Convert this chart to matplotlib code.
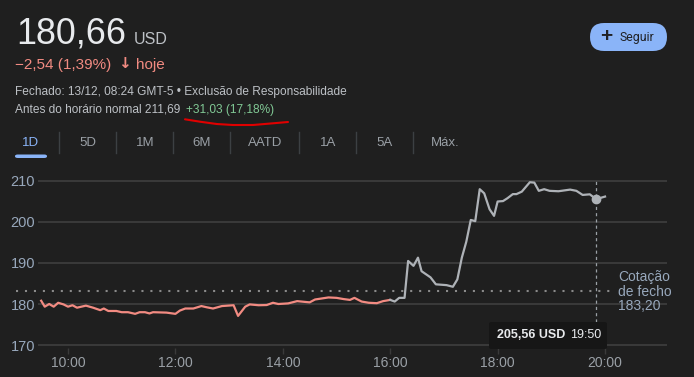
import matplotlib
matplotlib.use("Agg")
import matplotlib.pyplot as plt
from matplotlib.patches import FancyBboxPatch
from matplotlib.transforms import blended_transform_factory

plt.rcParams['font.family'] = ['Liberation Sans', 'DejaVu Sans']

# ---------------- data ----------------
regular_times = ["09:30", "09:34", "09:39", "09:44", "09:49", "09:55", "10:00", "10:05", "10:10", "10:20",
                 "10:28", "10:36", "10:40", "10:45", "10:54", "11:00", "11:07", "11:15", "11:20", "11:26",
                 "11:31", "11:35", "11:50", "12:00", "12:05", "12:11", "12:20", "12:29", "12:35", "12:42",
                 "12:52", "13:05", "13:10", "13:18", "13:23", "13:33", "13:42", "13:49", "13:55", "14:06",
                 "14:16", "14:30", "14:36", "14:51", "15:00", "15:08", "15:15", "15:20", "15:28", "15:36",
                 "15:45", "15:52", "16:00"]
regular_values = [180.8, 179.35, 180.0, 179.35, 180.3, 179.9, 179.35, 179.7, 179.1, 179.6,
                  179.1, 178.5, 178.9, 178.3, 178.3, 178.0, 178.0, 177.6, 178.0, 178.0,
                  177.7, 178.0, 177.9, 177.6, 178.4, 178.9, 178.9, 179.5, 179.2, 178.9,
                  179.5, 179.7, 177.1, 179.35, 179.9, 179.7, 179.75, 180.3, 180.0, 180.15,
                  180.7, 180.4, 181.1, 181.6, 181.5, 181.2, 181.0, 181.5, 180.6, 180.3,
                  180.2, 180.7, 181.0]

after_times = ["16:00", "16:05", "16:10", "16:16", "16:20", "16:26", "16:31", "16:35", "16:45", "16:51",
               "17:03", "17:10", "17:15", "17:20", "17:25", "17:30", "17:35", "17:40", "17:45", "17:51",
               "17:56", "18:00", "18:06", "18:11", "18:17", "18:21", "18:27", "18:36", "18:41", "18:46",
               "18:52", "18:58", "19:08", "19:21", "19:28", "19:35", "19:43", "19:50", "20:00"]
after_values = [181.0, 180.6, 181.5, 181.5, 190.5, 189.3, 191.3, 188.0, 186.5, 184.8,
                184.6, 184.2, 186.0, 191.3, 195.2, 200.5, 200.2, 208.0, 207.0, 203.1,
                201.5, 205.0, 205.1, 205.8, 206.8, 206.8, 207.4, 209.7, 209.6, 207.6,
                208.0, 207.6, 207.5, 207.9, 207.6, 206.6, 206.75, 205.56, 206.2]

previous_close = 183.20
hover_time = "19:50"
hover_value = 205.56

y_ticks = [170, 180, 190, 200, 210]
x_tick_labels = ["10:00", "12:00", "14:00", "16:00", "18:00", "20:00"]
tabs = ["1D", "5D", "1M", "6M", "AATD", "1A", "5A", "Máx."]


def hours(s):
    h, m = s.split(":")
    return int(h) + int(m) / 60.0


W, H = 694, 377
BG = '#1f1f1f'
fig = plt.figure(figsize=(W / 100, H / 100), dpi=100, facecolor=BG)


def fx(x):
    return x / W


def fy(y):
    return 1 - y / H


# ---------------- header ----------------
fig.text(fx(16), fy(43.5), "180,66", fontsize=25.8, color='#e8eaed', va='baseline', ha='left')
fig.text(fx(134), fy(43.5), "USD", fontsize=11.5, color='#bdc1c6', va='baseline', ha='left')
fig.text(fx(15), fy(68.5), "\u22122,54 (1,39%)", fontsize=11, color='#f28b82', va='baseline', ha='left')
fig.text(fx(118), fy(68.5), "\u2193", fontsize=11, color='#f28b82', va='baseline', ha='left',
         fontweight='bold', family=['DejaVu Sans'])
fig.text(fx(136), fy(68.5), "hoje", fontsize=11, color='#f28b82', va='baseline', ha='left')
fig.text(fx(15), fy(95), "Fechado: 13/12, 08:24 GMT-5 \u2022 Exclusão de Responsabilidade", fontsize=8.6,
         color='#bdc1c6', va='baseline', ha='left')
fig.text(fx(15), fy(112.5), "Antes do horário normal 211,69", fontsize=8.6,
         color='#bdc1c6', va='baseline', ha='left')
fig.text(fx(186), fy(112.5), "+31,03 (17,18%)", fontsize=8.6,
         color='#81c995', va='baseline', ha='left')

# hand-drawn red underline
ux = [185, 200, 216.7, 233, 253, 273, 288]
uy = [119.3, 121.7, 124, 125, 125, 123.3, 122]
fig.add_artist(plt.Line2D([fx(v) for v in ux], [fy(v) for v in uy], color='#e00000', lw=1.5,
                          solid_capstyle='round', solid_joinstyle='round', transform=fig.transFigure))

# follow button
btn = FancyBboxPatch((fx(590 + 14), fy(51)), fx(77 - 28), (28) / H,
                     boxstyle="round,pad=0,rounding_size=0.02", transform=fig.transFigure,
                     facecolor='#8ab4f8', edgecolor='none', mutation_aspect=H / W)
fig.patches.append(btn)
btn2 = FancyBboxPatch((fx(590), fy(51)), fx(77), 28 / H,
                      boxstyle="round,pad=0,rounding_size=0.0202", transform=fig.transFigure,
                      facecolor='#8ab4f8', edgecolor='none', mutation_aspect=W / H)
fig.patches.append(btn2)
fig.text(fx(606.5), fy(37), "+", fontsize=15, color='#202124', va='center', ha='center',
         fontweight='bold')
fig.text(fx(620), fy(37), "Seguir", fontsize=8.8, color='#202124', va='center', ha='left',
         family=['Roboto', 'DejaVu Sans'])

# tabs
tab_x = [31, 88, 145, 202, 265, 328, 385, 445]
sep_x = [59, 116, 173, 230, 299, 356, 413]
for i, (t, x) in enumerate(zip(tabs, tab_x)):
    fig.text(fx(x), fy(143), t, fontsize=9.5, color='#8ab4f8' if i == 0 else '#9aa0a6',
             va='center', ha='center')
for x in sep_x:
    fig.add_artist(plt.Line2D([fx(x), fx(x)], [fy(132), fy(153)], color='#3c4043', lw=1,
                              transform=fig.transFigure))
bar = FancyBboxPatch((fx(15), fy(158)), fx(32), 3.5 / H,
                     boxstyle="round,pad=0,rounding_size=0.004", transform=fig.transFigure,
                     facecolor='#8ab4f8', edgecolor='none')
fig.patches.append(bar)

# ---------------- chart ----------------
ax = fig.add_axes([fx(38), (H - 348) / H, 629 / W, 170 / H])
ax.set_facecolor(BG)
ax.set_xlim(9.441, 21.154)
ax.set_ylim(169.27, 210.73)
for s in ax.spines.values():
    s.set_visible(False)

ax.set_yticks(y_ticks)
ax.set_yticklabels([str(v) for v in y_ticks])
ax.yaxis.grid(True, color='#3a3a3a', lw=1.4)
ax.set_axisbelow(True)
ax.tick_params(axis='y', length=0, pad=2, labelcolor='#98a8bc', labelsize=10.5)
ax.set_xticks([hours(s) for s in x_tick_labels])
ax.set_xticklabels(x_tick_labels)
ax.tick_params(axis='x', length=4, width=1, color='#3a3a3a', pad=1.5, labelcolor='#9aa0a6',
               labelsize=10)

# previous close dotted line
tr = blended_transform_factory(ax.transAxes, ax.transData)
ax.plot([-0.035, 0.9126], [previous_close, previous_close], transform=tr, color='#8a8a8a',
        lw=1.5, ls=(0, (1, 3.3)), dash_capstyle='butt', clip_on=False, zorder=1)

ax.plot([hours(s) for s in regular_times], regular_values, color='#f28b82', lw=1.6,
        solid_joinstyle='round', zorder=3)
ax.plot([hours(s) for s in after_times], after_values, color='#aeb2b7', lw=1.6,
        solid_joinstyle='round', zorder=3)

# hover marker
ht = hours(hover_time)
ax.axvline(ht, ymin=0.153, ymax=0.982, color='#9aa0a6', lw=0.9, ls=(0, (2.5, 2.5)), zorder=2)
ax.plot([ht], [hover_value], 'o', ms=6, color='#aeb2b7', zorder=4)

# close label
close_txt = f"{previous_close:.2f}".replace('.', ',')
for txt, y in zip(["Cotação", "de fecho", close_txt], [277, 292, 306]):
    fig.text(fx(618), fy(y), txt, fontsize=10, color='#98a8bc', va='center', ha='left')

# tooltip
tip = FancyBboxPatch((fx(489), fy(349)), fx(118), 27 / H,
                     boxstyle="round,pad=0,rounding_size=0.004", transform=fig.transFigure,
                     facecolor='#161616', edgecolor='none', zorder=5)
fig.patches.append(tip)
fig.text(fx(497), fy(335.5), f"{hover_value:.2f}".replace('.', ',') + " USD", fontsize=9,
         fontweight='bold', color='#e8eaed', va='center', ha='left', zorder=6)
fig.text(fx(570), fy(335.5), hover_time, fontsize=9, color='#e8eaed', va='center', ha='left', zorder=6)

fig.savefig("out.png", dpi=100, facecolor=BG)
